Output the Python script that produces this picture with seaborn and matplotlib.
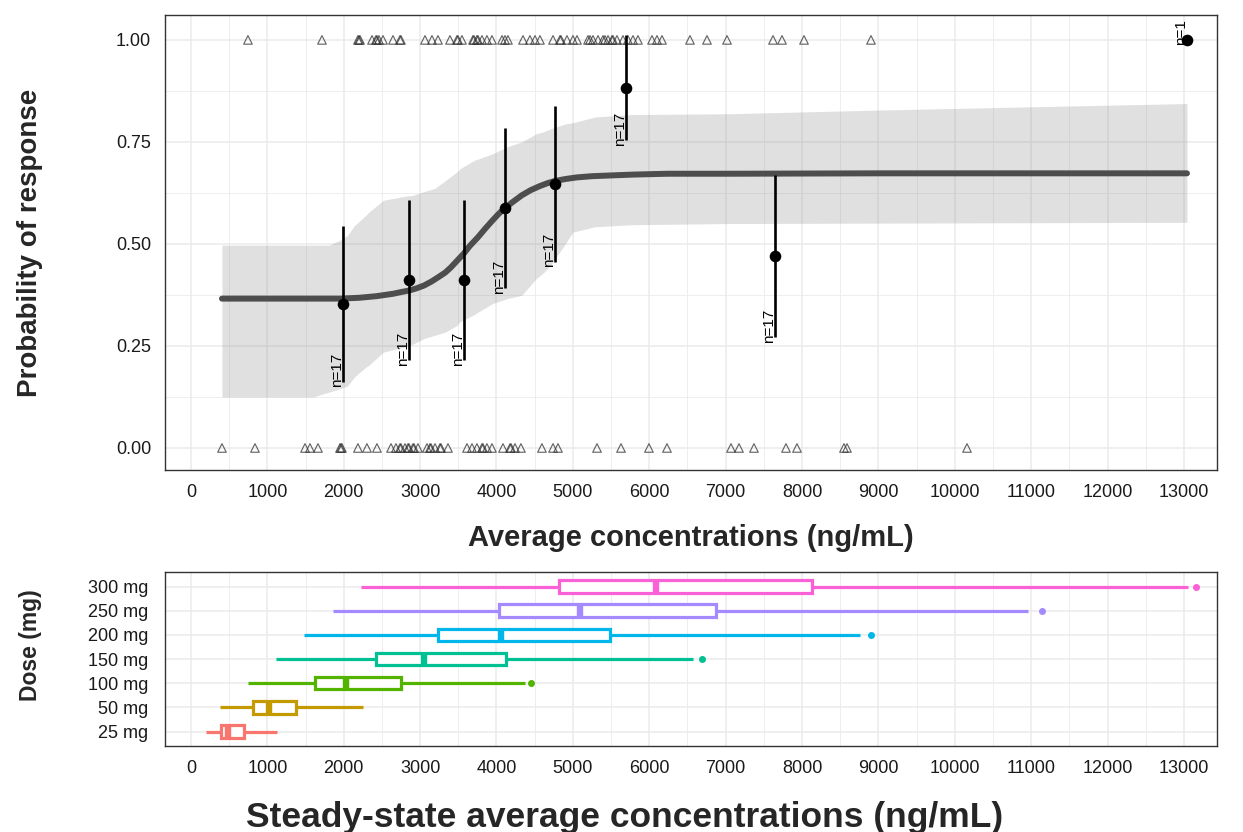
import numpy as np
import pandas as pd
import matplotlib
matplotlib.use("Agg")
import matplotlib.pyplot as plt
from matplotlib.ticker import MultipleLocator, FormatStrFormatter
import seaborn as sns

sns.set_theme(style="whitegrid")
plt.rcParams['font.family'] = ['Liberation Sans', 'DejaVu Sans']

# ---- individual subjects: average concentration (ng/mL) by outcome ----
resp_conc = [746, 1715, 2186, 2200, 2213, 2370, 2422, 2435, 2461, 2514,
             2645, 2736, 2749, 3064, 3155, 3234, 3391, 3483, 3496, 3548,
             3692, 3705, 3744, 3758, 3810, 3875, 3941, 4072, 4111, 4150,
             4347, 4438, 4504, 4569, 4740, 4831, 4844, 4923, 5001, 5054,
             5198, 5224, 5263, 5329, 5394, 5420, 5460, 5512, 5525, 5577,
             5656, 5721, 5787, 5852, 6036, 6101, 6167, 6533, 6756, 7018,
             7620, 7738, 8026, 8903, 13040]
nonresp_conc = [406, 838, 1493, 1558, 1663, 1951, 1964, 1977, 2186, 2304,
                2435, 2619, 2684, 2736, 2749, 2802, 2841, 2854, 2906, 2920,
                2972, 3090, 3129, 3142, 3195, 3260, 3273, 3365, 3614, 3679,
                3744, 3810, 3823, 3875, 3941, 4085, 4177, 4190, 4242, 4320,
                4595, 4740, 4805, 5316, 5630, 5996, 6232, 7070, 7175, 7371,
                7790, 7934, 8549, 8589, 10160]

# ---- observed response rate per concentration bin ----
bin_conc = [1990, 2857, 3571, 4110, 4762, 5700, 7646, 13040]
bin_resp = [6, 7, 7, 10, 11, 15, 8, 1]
bin_n = [17, 17, 17, 17, 17, 17, 17, 1]

# ---- model-predicted probability and its interval ----
fit_conc = [406, 1000, 1950, 2200, 2430, 2650, 2750, 2860, 2950, 3050,
            3150, 3250, 3330, 3400, 3500, 3570, 3650, 3760, 3850, 3950,
            4030, 4110, 4200, 4330, 4450, 4570, 4670, 4760, 4900, 5050,
            5250, 5520, 5800, 6240, 7040, 9000, 13040]
fit_prob = [0.366, 0.366, 0.366, 0.368, 0.372, 0.378, 0.382, 0.386, 0.391, 0.398,
            0.408, 0.420, 0.430, 0.442, 0.462, 0.476, 0.495, 0.517, 0.537, 0.558,
            0.574, 0.588, 0.601, 0.619, 0.632, 0.642, 0.649, 0.654, 0.659, 0.663,
            0.666, 0.668, 0.670, 0.672, 0.672, 0.673, 0.673]
band_conc = [406, 1600, 1810, 1950, 2050, 2140, 2290, 2330, 2520, 2810,
             2900, 3050, 3190, 3330, 3480, 3520, 3710, 3760, 3950, 4140,
             4330, 4520, 4620, 4710, 4900, 5000, 5290, 5760, 7040, 9000,
             11000, 13040]
band_upper = [0.497, 0.497, 0.497, 0.509, 0.521, 0.545, 0.570, 0.578, 0.607, 0.617,
              0.619, 0.628, 0.636, 0.655, 0.676, 0.684, 0.705, 0.708, 0.721, 0.738,
              0.750, 0.770, 0.775, 0.782, 0.794, 0.797, 0.811, 0.817, 0.819, 0.828,
              0.836, 0.844]
band_lower = [0.125, 0.125, 0.137, 0.145, 0.152, 0.174, 0.198, 0.203, 0.235, 0.248,
              0.254, 0.268, 0.276, 0.284, 0.300, 0.309, 0.327, 0.333, 0.354, 0.366,
              0.374, 0.415, 0.430, 0.448, 0.500, 0.529, 0.542, 0.547, 0.550, 0.551,
              0.552, 0.553]

# ---- steady-state exposure by dose (box statistics) ----
dose_labels = ["25 mg", "50 mg", "100 mg", "150 mg", "200 mg", "250 mg", "300 mg"]
dose_colors = ["#F8766D", "#C49A00", "#53B400", "#00C094", "#00B6EB", "#A58AFF", "#FB61D7"]
css_whislo = [196, 378, 750, 1118, 1485, 1858, 2226]
css_q1 = [398, 816, 1621, 2427, 3233, 4038, 4824]
css_med = [488, 1017, 2024, 3046, 4058, 5096, 6093]
css_q3 = [690, 1380, 2754, 4129, 5488, 6868, 8133]
css_whishi = [1128, 2251, 4376, 6571, 8759, 10957, 13052]
css_outlier = [None, None, 4456, 6692, 8904, 11139, 13156]

XLIM = (-340, 13433)
GRID = "#EBEBEB"
BORDER = "#333333"
TICKTXT = "#1A1A1A"

fig = plt.figure(figsize=(12.43, 8.32), dpi=100)
ax1 = fig.add_axes([165 / 1243, 1 - 470 / 832, 1052 / 1243, 455 / 832])
ax2 = fig.add_axes([165 / 1243, 1 - 746 / 832, 1052 / 1243, 174 / 832])


def style_axes(ax):
    ax.set_facecolor("white")
    for sp in ax.spines.values():
        sp.set_visible(True)
        sp.set_color(BORDER)
        sp.set_linewidth(1.0)
    ax.grid(True, which="major", color=GRID, linewidth=1.1)
    ax.grid(True, which="minor", color=GRID, linewidth=0.6)
    ax.tick_params(which="major", length=4, width=0.9, color=BORDER,
                   labelsize=13, labelcolor=TICKTXT, pad=6)
    ax.tick_params(which="minor", length=0)
    ax.set_axisbelow(True)


# ================= top: exposure-response =================
style_axes(ax1)
ax1.fill_between(band_conc, band_lower, band_upper, color="#7F7F7F",
                 alpha=0.24, linewidth=0, zorder=1)
fit_df = pd.DataFrame({"conc": fit_conc, "prob": fit_prob})
sns.lineplot(data=fit_df, x="conc", y="prob", ax=ax1, color="#4D4D4D",
             linewidth=4.3, zorder=2, estimator=None, sort=True)

pts = pd.DataFrame({
    "conc": resp_conc + nonresp_conc,
    "outcome": [1.0] * len(resp_conc) + [0.0] * len(nonresp_conc),
})
sns.scatterplot(data=pts, x="conc", y="outcome", ax=ax1, marker="^",
                s=38, color="#333333", facecolor="none", edgecolor="#333333",
                linewidth=0.85, alpha=0.75, zorder=3)

bins = pd.DataFrame({"conc": bin_conc, "resp": bin_resp, "n": bin_n})
bins["p"] = bins["resp"] / bins["n"]
half = 1.645 * np.sqrt(bins["p"] * (1 - bins["p"]) / bins["n"])
bins["lo"] = bins["p"] - half
bins["hi"] = bins["p"] + half
ax1.vlines(bins["conc"], bins["lo"], bins["hi"], color="black",
           linewidth=1.9, zorder=4)
sns.scatterplot(data=bins, x="conc", y="p", ax=ax1, color="black", s=70,
                edgecolor="black", linewidth=0, zorder=5)
for _, r in bins.iterrows():
    ax1.annotate(f"n={int(r['n'])}", xy=(r["conc"], r["lo"]),
                 xytext=(-1.5, -4), textcoords="offset points",
                 rotation=90, rotation_mode="anchor", ha="left", va="baseline",
                 fontsize=11, color="black", zorder=6)

ax1.set_xlim(*XLIM)
ax1.set_ylim(-0.054, 1.061)
ax1.xaxis.set_major_locator(MultipleLocator(1000))
ax1.xaxis.set_minor_locator(MultipleLocator(500))
ax1.yaxis.set_major_locator(MultipleLocator(0.25))
ax1.yaxis.set_minor_locator(MultipleLocator(0.125))
ax1.yaxis.set_major_formatter(FormatStrFormatter("%.2f"))
ax1.set_xlabel("Average concentrations (ng/mL)", fontsize=21, fontweight="bold")
ax1.set_ylabel("Probability of response", fontsize=20, fontweight="bold")
ax1.xaxis.set_label_coords(0.5, (470 - 538) / 455)
ax1.xaxis.label.set_va("center")
ax1.yaxis.set_label_coords((30 - 165) / 1052, 0.5)
ax1.yaxis.label.set_va("center")

# ================= bottom: exposure by dose =================
style_axes(ax2)
for i, lab in enumerate(dose_labels):
    col = dose_colors[i]
    st = {
        "whislo": css_whislo[i], "q1": css_q1[i], "med": css_med[i],
        "q3": css_q3[i], "whishi": css_whishi[i],
        "fliers": [] if css_outlier[i] is None else [css_outlier[i]],
        "label": lab,
    }
    kw = dict(positions=[i], widths=0.52, patch_artist=True, showcaps=False,
              manage_ticks=False,
              boxprops=dict(facecolor="white", edgecolor=col, linewidth=2.3),
              whiskerprops=dict(color=col, linewidth=2.3, solid_capstyle="butt"),
              medianprops=dict(color=col, linewidth=4.6, solid_capstyle="butt"),
              flierprops=dict(marker="o", markerfacecolor=col, markeredgecolor=col,
                              markersize=4.0, linestyle="none"))
    try:
        ax2.bxp([st], orientation="horizontal", **kw)
    except TypeError:
        ax2.bxp([st], vert=False, **kw)

ax2.set_xlim(*XLIM)
ax2.set_ylim(-0.6, len(dose_labels) - 0.4)
ax2.set_yticks(range(len(dose_labels)))
ax2.set_yticklabels(dose_labels)
ax2.xaxis.set_major_locator(MultipleLocator(1000))
ax2.xaxis.set_minor_locator(MultipleLocator(500))
ax2.grid(False, axis="y", which="minor")
ax2.tick_params(axis="y", which="major", pad=8)
ax2.set_xlabel("Steady-state average concentrations (ng/mL)", fontsize=25.5,
               fontweight="bold")
ax2.set_ylabel("Dose (mg)", fontsize=16.5, fontweight="bold")
ax2.xaxis.set_label_coords((625 - 165) / 1052, (746 - 817) / 174)
ax2.xaxis.label.set_va("center")
ax2.yaxis.set_label_coords((30 - 165) / 1052, (746 - 645) / 174)
ax2.yaxis.label.set_va("center")

fig.savefig("out.png", dpi=100, facecolor="white")
